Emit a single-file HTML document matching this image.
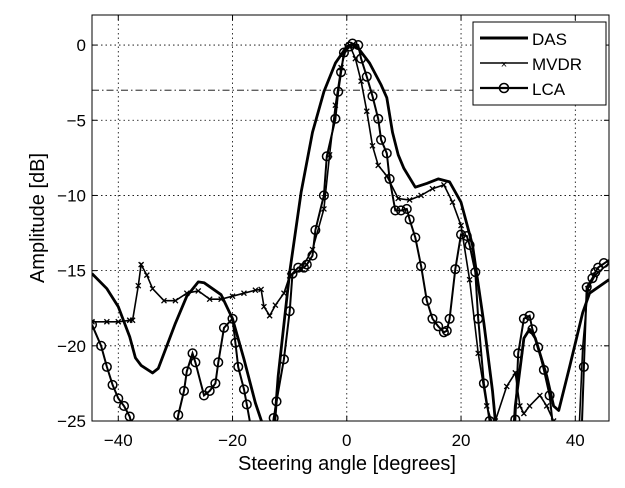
<!DOCTYPE html>
<html><head><meta charset="utf-8"><style>
html,body{margin:0;padding:0;background:#fff;}
svg{display:block;font-family:"Liberation Sans",sans-serif;}
</style></head><body>
<svg id="chart" width="625" height="488" viewBox="0 0 625 488">
<defs><clipPath id="pc"><rect x="92" y="15" width="517" height="406"/></clipPath></defs>
<g id="grid"></g>
<g id="series" clip-path="url(#pc)"></g>
<rect x="92" y="15" width="517" height="406" fill="none" stroke="#000" stroke-width="1"/>
<g id="ticks"></g>
<text x="347" y="470" text-anchor="middle" font-size="20">Steering angle [degrees]</text>
<text transform="translate(44,218) rotate(-90)" text-anchor="middle" font-size="20">Amplitude [dB]</text>
<g>
<rect x="473" y="22" width="133" height="83" fill="#fff" stroke="#000" stroke-width="1"/>
<g><line x1="480" y1="38" x2="528" y2="38" stroke="#000" stroke-width="3"/><text x="532" y="45" font-size="17">DAS</text></g>
<g><line x1="480" y1="63" x2="528" y2="63" stroke="#000" stroke-width="1.6"/><text x="504" y="68" font-size="11" text-anchor="middle">×</text><text x="532" y="70" font-size="17">MVDR</text></g>
<g><line x1="480" y1="88" x2="528" y2="88" stroke="#000" stroke-width="2.2"/><circle cx="504" cy="88" r="4.5" fill="none" stroke="#000" stroke-width="1.6"/><text x="532" y="95" font-size="17">LCA</text></g>
</g>
</svg>
<script>
const xTicks=[-40,-20,0,20,40];
const yTicks=[0,-5,-10,-15,-20,-25];
const refLevel=-3;
const dasX=[-44.6,-42,-40,-38,-37,-36,-34,-33,-30,-28,-26,-25,-22,-20,-18,-16,-14.5,-14,-13,-12,-10,-8,-6,-4,-2,0,1,2,4,6,7,8,9,10,12,14,16,18,20,22,24,25.5,26.5,29,29.5,31,32,33,35,36.2,37.1,39,41.3,42.5,45.9];
const dasY=[-15.2,-16.2,-17.4,-19.4,-20.8,-21.3,-21.8,-21.5,-18.5,-16.7,-15.75,-15.8,-16.6,-18.2,-20.9,-23.8,-25.5,-27,-27,-22,-15.1,-9.8,-5.8,-3.1,-1.2,-0.1,0,-0.2,-1.2,-2.65,-3.5,-5.8,-7.3,-8.2,-9.45,-9.2,-8.9,-9.1,-10.45,-13.3,-18.5,-23,-27,-27,-24,-19.5,-18.9,-19.5,-22,-24,-24.3,-21.4,-17.8,-16.5,-15.6];
const mvdrX=[-44.6,-42,-40,-38,-37.5,-36.5,-36,-35,-34,-32,-30,-28,-26,-24,-22,-20,-18,-16,-15,-14.5,-13.5,-12.5,-11,-10,-8,-6,-4,-3,-2,-1,0,0.5,1.5,2.5,3.5,4.5,5.5,7,9,11,13,15,17,18.5,20,21.5,23,24.5,25.5,26,28,29.5,30.3,31,32,33.8,35,36.2,37,40.5,41.3,42.2,43.5,45.9];
const mvdrY=[-18.4,-18.4,-18.4,-18.3,-18.3,-16,-14.6,-15.3,-16.2,-17,-17,-16.5,-16.35,-16.9,-16.9,-16.7,-16.5,-16.3,-16.25,-17.4,-18,-17.3,-16.5,-15.35,-14.9,-13.6,-10.9,-7.3,-4,-1.5,-0.1,0,-0.9,-2.4,-4.4,-6.7,-8,-8.7,-10.2,-10.3,-10,-9.55,-9.3,-10.45,-12,-15.6,-20.5,-24,-25.2,-25,-22.7,-21.8,-24,-24.5,-24,-23.3,-24,-25,-27,-27,-20.1,-16.2,-15.3,-14.5];
const lcaX=[-44.6,-43,-42,-41,-40,-39,-38,-37.2,-30.5,-29.5,-28.5,-28,-27,-26.5,-25,-24,-23,-22.5,-21.5,-20,-19.5,-19,-18,-17.5,-16.5,-13.5,-12.8,-12.3,-11,-10,-9.5,-8.5,-7.5,-7,-6,-5.5,-4,-3.5,-2,-1.5,-1,-0.5,0.5,1,2,2.5,3.5,4.5,5.5,6,7,7.5,8.5,9.5,10.5,11,12,13,14,15,16,17,17.5,18,19,20,21,21.5,22.5,23,24,25,26,29,29.5,30,31,32,32.5,33.5,34.5,35.5,36,37,41,41.5,42,43,43.5,44,45.9];
const lcaY=[-18.6,-20,-21.4,-22.6,-23.5,-24,-24.7,-26,-27,-24.6,-23,-21.7,-20.5,-21.1,-23.3,-23,-22.5,-21.1,-18.8,-18.2,-19.8,-21.4,-22.9,-23.9,-26,-27,-24.8,-23.7,-20.9,-17.7,-15.2,-14.8,-14.8,-14.6,-14,-12.3,-10,-7.4,-4.9,-3.1,-1.8,-0.5,-0.1,0.1,0,-0.9,-2.1,-3.4,-4.9,-6.3,-7.2,-8.9,-11,-11,-10.9,-11.6,-12.8,-14.7,-17,-18.2,-18.7,-19.1,-19,-18.2,-14.9,-12.6,-12.7,-13.3,-15.1,-18.2,-22.5,-25,-27,-27,-24.9,-20.5,-18.2,-18,-18.9,-20.1,-21.6,-23.3,-25,-27,-27,-21.4,-16.1,-15.5,-15.1,-14.8,-14.3];
const lcaMarkX=[-44.6,-43,-42,-41,-40,-39,-38,-29.5,-28.5,-28,-27,-26.5,-25,-24,-23,-22.5,-21.5,-20,-19.5,-19,-18,-17.5,-12.8,-12.3,-11,-10,-9.5,-8.5,-7.5,-7,-6,-5.5,-4,-3.5,-2,-1.5,-1,-0.5,0.5,1,2,2.5,3.5,4.5,5.5,6,7,7.5,8.5,9.5,10.5,11,12,13,14,15,16,17,17.5,18,19,20,21,21.5,22.5,23,24,25,29.5,30,31,32,32.5,33.5,34.5,35.5,41.5,42,43,43.5,44,45];
const lcaMarkY=[-18.6,-20,-21.4,-22.6,-23.5,-24,-24.7,-24.6,-23,-21.7,-20.5,-21.1,-23.3,-23,-22.5,-21.1,-18.8,-18.2,-19.8,-21.4,-22.9,-23.9,-24.8,-23.7,-20.9,-17.7,-15.2,-14.8,-14.8,-14.6,-14,-12.3,-10,-7.4,-4.9,-3.1,-1.8,-0.5,-0.1,0.1,0,-0.9,-2.1,-3.4,-4.9,-6.3,-7.2,-8.9,-11,-11,-10.9,-11.6,-12.8,-14.7,-17,-18.2,-18.7,-19.1,-19,-18.2,-14.9,-12.6,-12.7,-13.3,-15.1,-18.2,-22.5,-25,-24.9,-20.5,-18.2,-18,-18.9,-20.1,-21.6,-23.3,-21.4,-16.1,-15.5,-15.1,-14.8,-14.5];

const NS='http://www.w3.org/2000/svg';
const L=92,R=609,T=15,B=421;
const xMin=-44.6,xMax=45.9,yMin=-25,yMax=2;
function sx(v){return L+(v-xMin)/(xMax-xMin)*(R-L);}
function sy(v){return B-(v-yMin)/(yMax-yMin)*(B-T);}
function mk(tag,attrs,parent){const e=document.createElementNS(NS,tag);for(const k in attrs)e.setAttribute(k,attrs[k]);parent.appendChild(e);return e;}
const grid=document.getElementById('grid'),ticks=document.getElementById('ticks'),ser=document.getElementById('series');
xTicks.forEach(t=>{
  const X=sx(t);
  const g=mk('line',{x1:X,y1:T,x2:X,y2:B,stroke:'#000','stroke-width':0.8,'stroke-dasharray':'1.5,3'},grid);
  
  
  mk('line',{x1:X,y1:B,x2:X,y2:B-5,stroke:'#000'},ticks);
  mk('line',{x1:X,y1:T,x2:X,y2:T+5,stroke:'#000'},ticks);
  const tx=mk('text',{x:X,y:446,'text-anchor':'middle','font-size':17},ticks);
  tx.textContent=t<0?'\u2212'+(-t):String(t);
  
  
});
yTicks.forEach(t=>{
  const Y=sy(t);
  if(t>-25){const g=mk('line',{x1:L,y1:Y,x2:R,y2:Y,stroke:'#000','stroke-width':0.8,'stroke-dasharray':'1.5,3'},grid);
  
  }
  mk('line',{x1:L,y1:Y,x2:L+5,y2:Y,stroke:'#000'},ticks);
  mk('line',{x1:R,y1:Y,x2:R-5,y2:Y,stroke:'#000'},ticks);
  const tx=mk('text',{x:86,y:Y+6,'text-anchor':'end','font-size':17},ticks);
  tx.textContent=t<0?'\u2212'+(-t):String(t);
  
  
});
const ref=mk('line',{x1:L,y1:sy(refLevel),x2:R,y2:sy(refLevel),stroke:'#000','stroke-width':0.9,'stroke-dasharray':'7,3,1.5,3'},grid);


function path(xs,ys){return xs.map((x,i)=>(i?'L':'M')+sx(x).toFixed(1)+','+sy(ys[i]).toFixed(1)).join('');}
const das=mk('path',{d:path(dasX,dasY),fill:'none',stroke:'#000','stroke-width':2.8,'stroke-linejoin':'round'},ser);


const mv=mk('path',{d:path(mvdrX,mvdrY),fill:'none',stroke:'#000','stroke-width':1.6},ser);


mvdrX.forEach((x,i)=>{const X=sx(x),Y=sy(mvdrY[i]);
  const m=mk('path',{d:`M${X-2.5},${Y-2.5}L${X+2.5},${Y+2.5}M${X-2.5},${Y+2.5}L${X+2.5},${Y-2.5}`,stroke:'#000','stroke-width':1.3},ser);
  
  });
const lc=mk('path',{d:path(lcaX,lcaY),fill:'none',stroke:'#000','stroke-width':2},ser);


lcaMarkX.forEach((x,i)=>{
  const c=mk('circle',{cx:sx(x),cy:sy(lcaMarkY[i]),r:4.3,fill:'none',stroke:'#000','stroke-width':1.5},ser);
  
  });
</script>
</body></html>
